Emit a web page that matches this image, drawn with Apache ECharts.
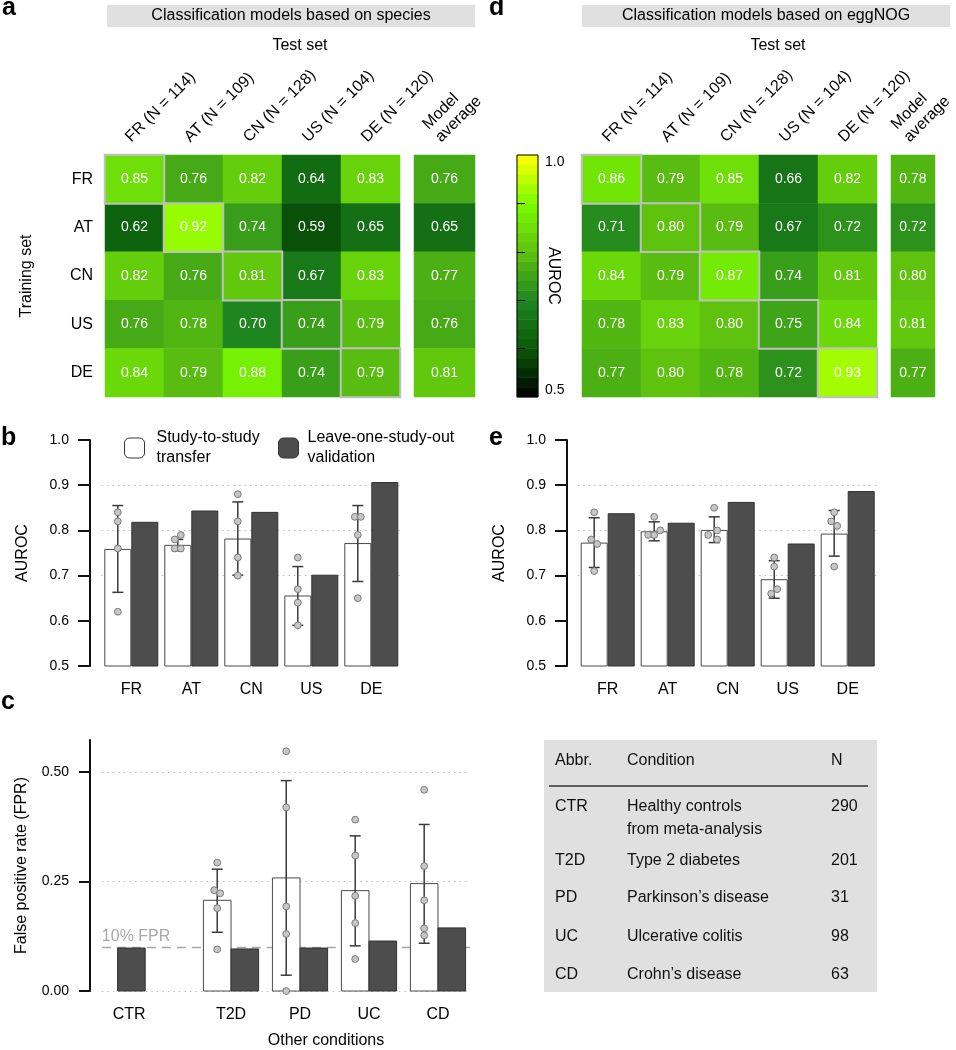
<!DOCTYPE html>
<html><head><meta charset="utf-8">
<script src="https://cdn.jsdelivr.net/npm/echarts@6/dist/echarts.min.js"></script>
<style>html,body{margin:0;padding:0;background:#fff}#c{width:956px;height:1050px}</style>
</head><body><div id="c"></div>
<script>
// ---------------- DATA ----------------
const trainSets = ['FR','AT','CN','US','DE'];
const testLabels = ['FR (N = 114)','AT (N = 109)','CN (N = 128)','US (N = 104)','DE (N = 120)'];
const avgLabel = ['Model\naverage'];
// rows = training set, columns = test set
const speciesAUROC = [
  [0.85,0.76,0.82,0.64,0.83],
  [0.62,0.92,0.74,0.59,0.65],
  [0.82,0.76,0.81,0.67,0.83],
  [0.76,0.78,0.70,0.74,0.79],
  [0.84,0.79,0.88,0.74,0.79]];
const speciesAvg = [0.76,0.65,0.77,0.76,0.81];
const eggAUROC = [
  [0.86,0.79,0.85,0.66,0.82],
  [0.71,0.80,0.79,0.67,0.72],
  [0.84,0.79,0.87,0.74,0.81],
  [0.78,0.83,0.80,0.75,0.84],
  [0.77,0.80,0.78,0.72,0.93]];
const eggAvg = [0.78,0.72,0.80,0.81,0.77];
const colorbarSteps = [0.51,0.53,0.55,0.57,0.59,0.61,0.63,0.65,0.67,0.69,0.71,0.73,0.75,0.77,0.79,0.81,0.83,0.85,0.87,0.89,0.91,0.93,0.95,0.97,0.99];
const colorStops = ['#000000','#0a5a0a','#1f861f','#5fc20f','#7cfc00','#ffff00'];

const studies = ['FR','AT','CN','US','DE'];
const legendNames = ['Study-to-study transfer','Leave-one-study-out validation'];
// panel b (species)
const spTransferMean = [0.759,0.768,0.782,0.656,0.772];
const spTransferLow  = [0.663,0.755,0.701,0.590,0.687];
const spTransferHigh = [0.855,0.780,0.863,0.720,0.855];
const spLOSO         = [0.819,0.844,0.841,0.702,0.907];
const spPoints = [[0.62,0.82,0.76,0.84],[0.76,0.76,0.78,0.79],[0.82,0.74,0.70,0.88],[0.64,0.59,0.67,0.74],[0.83,0.65,0.83,0.79]];
// panel e (eggNOG)
const egTransferMean = [0.773,0.798,0.801,0.692,0.793];
const egTransferLow  = [0.718,0.777,0.773,0.650,0.743];
const egTransferHigh = [0.828,0.819,0.830,0.733,0.844];
const egLOSO         = [0.838,0.817,0.863,0.771,0.887];
const egPoints = [[0.71,0.84,0.78,0.77],[0.79,0.79,0.83,0.80],[0.85,0.79,0.80,0.78],[0.66,0.67,0.74,0.72],[0.82,0.72,0.81,0.84]];
const aurocGridLines = [0.7,0.8,0.9];
// panel c
const conditions = ['CTR','T2D','PD','UC','CD'];
const fprTransferMean = [null,0.207,0.258,0.229,0.245];
const fprTransferLow  = [null,0.134,0.036,0.103,0.109];
const fprTransferHigh = [null,0.278,0.480,0.354,0.380];
const fprLOSO         = [0.098,0.096,0.098,0.114,0.144];
const fprPoints = [[],[0.293,0.230,0.223,0.189,0.095],[0.547,0.419,0.193,0.130,0.0],[0.391,0.309,0.217,0.155,0.073],[0.459,0.285,0.207,0.143,0.127]];
const fprTicks = [0,0.25,0.5];
const fprThreshold = 0.10;
// table
const tableHeader = ['Abbr.','Condition','N'];
const tableAbbr = ['CTR','T2D','PD','UC','CD'];
const tableCondition = ['Healthy controls\nfrom meta-analysis','Type 2 diabetes','Parkinson\u2019s disease','Ulcerative colitis','Crohn\u2019s disease'];
const tableN = ['290','201','31','98','63'];

// ---------------- BUILD ----------------
const FONT = "'Liberation Sans', Arial, Helvetica, sans-serif";
const chart = echarts.init(document.getElementById('c'));

function offDiag(mat){const d=[];mat.forEach((row,r)=>row.forEach((v,c)=>{if(r!==c)d.push([c,r,v]);}));return d;}
function diag(mat){return mat.map((row,r)=>[r,r,row[r]]);}
function col(arr){return arr.map((v,r)=>[0,r,v]);}
const hmLabel = {show:true,color:'#fff',fontSize:14,formatter:p=>p.value[2].toFixed(2)};

function hmX(g,data,show){return {type:'category',gridIndex:g,data,position:'top',axisLine:{show:false},axisTick:{show:false},splitLine:{show:false},
  axisLabel:{show:show,rotate:-45,interval:0,margin:9,fontSize:16,color:'#000',verticalAlign:'bottom',lineHeight:18}};}
function hmY(g,show,name){return {type:'category',gridIndex:g,data:trainSets,inverse:true,axisLine:{show:false},axisTick:{show:false},splitLine:{show:false},
  axisLabel:{show:show,fontSize:16,color:'#000',margin:12},name:name||'',nameLocation:'middle',nameGap:70,nameRotate:90,nameMoveOverlap:false,
  nameTextStyle:{fontSize:16,color:'#000'}};}

function clusterJitter(vals){
  return vals.map((v,k)=>{const cl=[];vals.forEach((w,j)=>{if(Math.abs(w-v)<0.012)cl.push(j);});const n=cl.length;const r=cl.indexOf(k);return (r-(n-1)/2)*6;});
}
function pointsData(groups,xOf){const out=[];groups.forEach((vals,i)=>{const jit=clusterJitter(vals);vals.forEach((v,k)=>out.push([xOf(i),v,jit[k]]));});return out;}

const BARW = 27;
function errRender(off){return (params,api)=>{
  const x0=api.value(0),lo=api.value(1),hi=api.value(2);
  const a=api.coord([x0,lo]),b=api.coord([x0,hi]);const x=a[0]+off;const cap=5.5;
  const st={stroke:'#3a3a3a',lineWidth:1.5};
  return {type:'group',children:[
    {type:'line',shape:{x1:x,y1:a[1],x2:x,y2:b[1]},style:st},
    {type:'line',shape:{x1:x-cap,y1:a[1],x2:x+cap,y2:a[1]},style:st},
    {type:'line',shape:{x1:x-cap,y1:b[1],x2:x+cap,y2:b[1]},style:st}]};};}
function ptRender(off){return (params,api)=>{
  const p=api.coord([api.value(0),api.value(1)]);
  return {type:'circle',shape:{cx:p[0]+off+api.value(2),cy:p[1],r:3.4},style:{fill:'#c6c6c6',stroke:'#7a7a7a',lineWidth:1}};};}

const gridMark = {silent:true,symbol:'none',z:1,label:{show:false},emphasis:{disabled:true},
  lineStyle:{type:[1.5,4],color:'#bdbdbd',width:1.2},data:aurocGridLines.map(v=>({yAxis:v}))};

function aurocY(g,offset){return {type:'value',gridIndex:g,min:0.5,max:1.0,interval:0.1,offset,
  axisLine:{show:true,lineStyle:{color:'#111',width:2}},axisTick:{show:true,length:12,lineStyle:{color:'#111',width:2}},
  axisLabel:{fontSize:14,color:'#000',margin:21,formatter:v=>v.toFixed(1)},splitLine:{show:false},
  name:'AUROC',nameLocation:'middle',nameGap:59,nameMoveOverlap:false,nameTextStyle:{fontSize:16,color:'#000'}};}
function studyX(g){return {type:'category',gridIndex:g,data:studies,axisLine:{show:false},axisTick:{show:false},
  axisLabel:{fontSize:16,color:'#000',margin:16}};}

// panel c layout (value x axis, one unit = one bar width)
const cCenter = k => k===0 ? 1.0 : 5.11 + 2.5*(k-1);
const cLabelPos = k => k===0 ? 1.42 : cCenter(k);
const cXMax = 13.77;
function cBarRender(side){return (params,api)=>{
  const c=api.value(0),v=api.value(1);const x0=side<0?c-1:c;
  const p0=api.coord([x0,0]),p1=api.coord([x0+1,v]);
  return {type:'rect',shape:{x:p0[0],y:p1[1],width:p1[0]-p0[0],height:p0[1]-p1[1]},
    style:{fill:side<0?'#ffffff':'#4d4d4d',stroke:side<0?'#4a4a4a':'#333',lineWidth:1}};};}
const cWhite=[],cErr=[],cDark=[];
conditions.forEach((n,k)=>{
  if(fprTransferMean[k]!=null){cWhite.push([cCenter(k),fprTransferMean[k]]);cErr.push([cCenter(k)-0.5,fprTransferLow[k],fprTransferHigh[k]]);}
  cDark.push([cCenter(k),fprLOSO[k]]);
});
const cDotted={type:[1.5,4],color:'#bdbdbd',width:1.2};
const cMarkData = fprTicks.map(v=>[{coord:[0.43,v],lineStyle:cDotted},{coord:[cXMax,v]}]);
cMarkData.push([{coord:[0.43,fprThreshold],lineStyle:{type:[9,6],color:'#a8a8a8',width:1.3},
  label:{show:true,position:'insideStartTop',formatter:'10% FPR',color:'#a8a8a8',fontSize:16,distance:[0,3]}},{coord:[cXMax,fprThreshold]}]);

const legendFmt = {'Study-to-study transfer':'Study-to-study\ntransfer','Leave-one-study-out validation':'Leave-one-study-out\nvalidation'};

// graphics
const G = [];
function txt(x,y,t,o){G.push(Object.assign({type:'text',x,y,z:100,style:Object.assign({text:t,font:'16px '+FONT,fill:'#000'},o||{})}));}
[['a',2,21],['d',489,21],['b',1,451],['e',489,451],['c',1,715]].forEach(([t,x,y])=>
  txt(x,y,t,{font:'bold 25px '+FONT,textVerticalAlign:'bottom'}));
G.push({type:'rect',shape:{x:107,y:5,width:368,height:22},style:{fill:'#e0e0e0'},z:1});
G.push({type:'rect',shape:{x:582,y:5,width:368,height:22},style:{fill:'#e0e0e0'},z:1});
txt(291,16,'Classification models based on species',{textAlign:'center',textVerticalAlign:'middle'});
txt(766,16,'Classification models based on eggNOG',{textAlign:'center',textVerticalAlign:'middle'});
txt(300,46,'Test set',{textAlign:'center',textVerticalAlign:'middle'});
txt(778,46,'Test set',{textAlign:'center',textVerticalAlign:'middle'});
G.push({type:'rect',shape:{x:517,y:155,width:21,height:242},style:{fill:null,stroke:'#000',lineWidth:1},z:100});
// table
G.push({type:'rect',shape:{x:544,y:740,width:333,height:252},style:{fill:'#e0e0e0'},z:1});
G.push({type:'line',shape:{x1:549,y1:786,x2:868,y2:786},style:{stroke:'#333',lineWidth:1.5},z:2});
const tCols=[555,627,831];
tableHeader.forEach((h,i)=>txt(tCols[i],761,h,{textVerticalAlign:'middle',fill:'#111'}));
const tRowY=[818,861,898,937,975];
tableAbbr.forEach((a,k)=>{
  const y=tRowY[k];const two=tableCondition[k].indexOf('\n')>=0;
  const y1=two?y-11.5:y;
  txt(tCols[0],y1,a,{textVerticalAlign:'middle',fill:'#111'});
  txt(tCols[1],y,tableCondition[k],{textVerticalAlign:'middle',fill:'#111',lineHeight:23.5});
  txt(tCols[2],y1,tableN[k],{textVerticalAlign:'middle',fill:'#111'});
});

const option = {
  animation:false,
  textStyle:{fontFamily:FONT},
  graphic:G,
  visualMap:{type:'continuous',show:false,min:0.5,max:1.0,dimension:2,seriesIndex:[0,1,2,3,4,5,6],inRange:{color:colorStops}},
  legend:[
    {left:124,top:428,itemWidth:20,itemHeight:20,padding:0,data:[{name:legendNames[0],itemStyle:{color:'#fff',borderColor:'#333',borderWidth:1}}],
      formatter:n=>legendFmt[n],textStyle:{fontSize:16,color:'#000',lineHeight:20,padding:[0,0,0,7]},selectedMode:false},
    {left:278,top:428,itemWidth:20,itemHeight:20,padding:0,data:[{name:legendNames[1],itemStyle:{color:'#4d4d4d',borderColor:'#333',borderWidth:1}}],
      formatter:n=>legendFmt[n],textStyle:{fontSize:16,color:'#000',lineHeight:20,padding:[0,0,0,4]},selectedMode:false}
  ],
  grid:[
    {left:105,top:155,width:295,height:242},
    {left:414,top:155,width:61,height:242},
    {left:582,top:155,width:295,height:242},
    {left:891,top:155,width:61,height:242},
    {left:517,top:155,width:21,height:242},
    {left:101.3,top:440,width:300,height:226},
    {left:577.7,top:440,width:300,height:226},
    {left:90,top:740,width:380,height:252}
  ],
  xAxis:[
    hmX(0,testLabels,true),hmX(1,avgLabel,true),hmX(2,testLabels,true),hmX(3,avgLabel,true),
    {type:'category',gridIndex:4,data:['AUROC'],show:false},
    studyX(5),studyX(6),
    {type:'value',gridIndex:7,min:0,max:cXMax,axisLine:{show:false},axisTick:{show:false},splitLine:{show:false},
      axisLabel:{fontSize:16,color:'#000',margin:16,customValues:conditions.map((n,k)=>cLabelPos(k)),
        formatter:v=>{let best=0;conditions.forEach((n,k)=>{if(Math.abs(cLabelPos(k)-v)<Math.abs(cLabelPos(best)-v))best=k;});return conditions[best];}},
      name:'Other conditions',nameLocation:'middle',nameGap:42,nameMoveOverlap:false,nameTextStyle:{fontSize:16,color:'#000',padding:[0,0,0,92]}}
  ],
  yAxis:[
    hmY(0,true,'Training set'),hmY(1,false),hmY(2,false),hmY(3,false),
    {type:'category',gridIndex:4,data:colorbarSteps.map(String),show:false},
    {type:'value',gridIndex:4,min:0.5,max:1.0,interval:0.1,position:'left',z:10,axisLine:{show:false},
      axisTick:{show:true,inside:true,length:8,lineStyle:{color:'#000',width:1},customValues:[0.6,0.7,0.8,0.9]},axisLabel:{show:false},splitLine:{show:false}},
    {type:'value',gridIndex:4,min:0.5,max:1.0,interval:0.5,position:'right',axisLine:{show:false},axisTick:{show:false},splitLine:{show:false},
      axisLabel:{fontSize:14,color:'#000',margin:7,formatter:v=>v.toFixed(1),verticalAlignMaxLabel:'top',verticalAlignMinLabel:'bottom'},
      name:'AUROC',nameLocation:'middle',nameRotate:-90,nameGap:7,nameMoveOverlap:false,nameTextStyle:{fontSize:16,color:'#000'}},
    aurocY(5,11.3),aurocY(6,10.7),
    {type:'value',gridIndex:7,min:0,max:0.5727,axisLine:{show:true,lineStyle:{color:'#111',width:2}},
      axisTick:{show:true,length:11,lineStyle:{color:'#111',width:2},customValues:fprTicks},
      axisLabel:{fontSize:14,color:'#000',margin:21,customValues:fprTicks,formatter:v=>v.toFixed(2)},splitLine:{show:false},
      name:'False positive rate (FPR)',nameLocation:'middle',nameGap:60,nameMoveOverlap:false,nameTextStyle:{fontSize:16,color:'#000'}}
  ],
  series:[
    {type:'heatmap',xAxisIndex:0,yAxisIndex:0,data:offDiag(speciesAUROC),label:hmLabel,emphasis:{disabled:true}},
    {type:'heatmap',xAxisIndex:0,yAxisIndex:0,data:diag(speciesAUROC),label:hmLabel,emphasis:{disabled:true},itemStyle:{borderColor:'#c0c0c0',borderWidth:2}},
    {type:'heatmap',xAxisIndex:1,yAxisIndex:1,data:col(speciesAvg),label:hmLabel,emphasis:{disabled:true}},
    {type:'heatmap',xAxisIndex:2,yAxisIndex:2,data:offDiag(eggAUROC),label:hmLabel,emphasis:{disabled:true}},
    {type:'heatmap',xAxisIndex:2,yAxisIndex:2,data:diag(eggAUROC),label:hmLabel,emphasis:{disabled:true},itemStyle:{borderColor:'#c0c0c0',borderWidth:2}},
    {type:'heatmap',xAxisIndex:3,yAxisIndex:3,data:col(eggAvg),label:hmLabel,emphasis:{disabled:true}},
    {type:'heatmap',xAxisIndex:4,yAxisIndex:4,data:colorbarSteps.map((v,j)=>[0,j,v]),emphasis:{disabled:true}},
    // b
    {type:'bar',name:legendNames[0],xAxisIndex:5,yAxisIndex:7,data:spTransferMean,barWidth:BARW,barGap:'0%',
      itemStyle:{color:'#fff',borderColor:'#4a4a4a',borderWidth:1},markLine:gridMark},
    {type:'bar',name:legendNames[1],xAxisIndex:5,yAxisIndex:7,data:spLOSO,barWidth:BARW,barGap:'0%',
      itemStyle:{color:'#4d4d4d',borderColor:'#333',borderWidth:1}},
    {type:'custom',xAxisIndex:5,yAxisIndex:7,z:3,renderItem:errRender(-BARW/2),encode:{x:0,y:[1,2]},
      data:studies.map((s,i)=>[i,spTransferLow[i],spTransferHigh[i]])},
    {type:'custom',xAxisIndex:5,yAxisIndex:7,z:4,renderItem:ptRender(-BARW/2),encode:{x:0,y:1},data:pointsData(spPoints,i=>i)},
    // e
    {type:'bar',name:legendNames[0],xAxisIndex:6,yAxisIndex:8,data:egTransferMean,barWidth:BARW,barGap:'0%',
      itemStyle:{color:'#fff',borderColor:'#4a4a4a',borderWidth:1},markLine:gridMark},
    {type:'bar',name:legendNames[1],xAxisIndex:6,yAxisIndex:8,data:egLOSO,barWidth:BARW,barGap:'0%',
      itemStyle:{color:'#4d4d4d',borderColor:'#333',borderWidth:1}},
    {type:'custom',xAxisIndex:6,yAxisIndex:8,z:3,renderItem:errRender(-BARW/2),encode:{x:0,y:[1,2]},
      data:studies.map((s,i)=>[i,egTransferLow[i],egTransferHigh[i]])},
    {type:'custom',xAxisIndex:6,yAxisIndex:8,z:4,renderItem:ptRender(-BARW/2),encode:{x:0,y:1},data:pointsData(egPoints,i=>i)},
    // c
    {type:'custom',xAxisIndex:7,yAxisIndex:9,z:2,renderItem:cBarRender(-1),encode:{x:0,y:1},data:cWhite,
      markLine:{silent:true,symbol:'none',z:1,emphasis:{disabled:true},label:{show:false},data:cMarkData}},
    {type:'custom',xAxisIndex:7,yAxisIndex:9,z:2,renderItem:cBarRender(1),encode:{x:0,y:1},data:cDark},
    {type:'custom',xAxisIndex:7,yAxisIndex:9,z:3,renderItem:errRender(0),encode:{x:0,y:[1,2]},data:cErr},
    {type:'custom',xAxisIndex:7,yAxisIndex:9,z:4,renderItem:ptRender(0),encode:{x:0,y:1},
      data:pointsData(fprPoints,k=>cCenter(k)-0.5)}
  ]
};
chart.setOption(option);
</script></body></html>
